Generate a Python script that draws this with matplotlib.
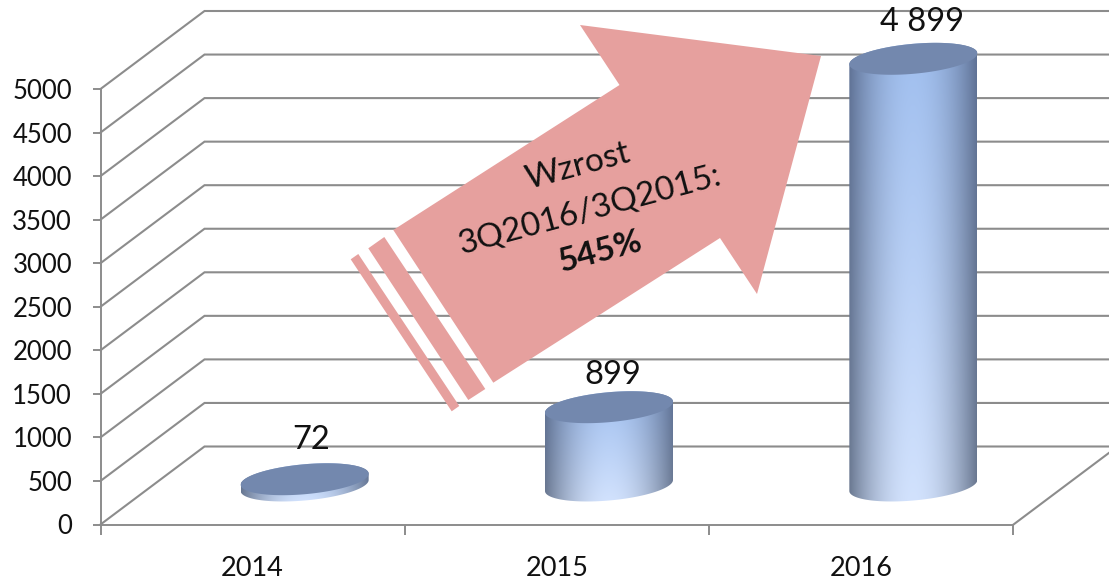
import numpy as np
import matplotlib
matplotlib.use("Agg")
import matplotlib.pyplot as plt
from matplotlib.patches import Polygon
from matplotlib.colors import to_rgb

categories = ["2014", "2015", "2016"]
values = [72, 899, 4899]
value_labels = ["72", "899", "4 899"]
y_ticks = [0, 500, 1000, 1500, 2000, 2500, 3000, 3500, 4000, 4500, 5000]
arrow_lines = ["Wzrost", "3Q2016/3Q2015:", "545%"]

W, H = 1109, 583
PX_X = 304.33      # pixels per category
PX_Y = 0.0871      # pixels per value unit
X0_PX, Y0_PX = 100.5, 524.5
DEPTH_X = 104 / PX_X
DEPTH_Y = 78 / PX_Y
GRID = "#8c8c8c"
ARROW = "#E6A09E"
TOP = "#7388AE"
LABEL_DX = [6, 3.5, 9]
LABEL_DY = [39, 32, 37]

plt.rcParams["font.family"] = ["Lato", "DejaVu Sans"]
fig = plt.figure(figsize=(W / 100, H / 100), dpi=100)
ax = fig.add_axes([0, 0, 1, 1])
xlim = (-X0_PX / PX_X, (W - X0_PX) / PX_X)
ylim = ((Y0_PX - H) / PX_Y, Y0_PX / PX_Y)
ax.set_xlim(xlim)
ax.set_ylim(ylim)
ax.patch.set_alpha(0)

for s in ("top", "right"):
    ax.spines[s].set_visible(False)
for s in ("left", "bottom"):
    ax.spines[s].set_position(("data", 0))
    ax.spines[s].set_color(GRID)
    ax.spines[s].set_linewidth(1.4)
ax.spines["left"].set_bounds(0, 5000)
ax.spines["bottom"].set_bounds(0, 3)

ax.set_yticks(y_ticks)
ax.set_yticklabels([str(v) for v in y_ticks], fontsize=18.5, color="#111111")
ax.tick_params(axis="y", length=6, width=1.4, color=GRID, pad=14.5, direction="out")
ax.set_xticks(range(len(categories) + 1))
ax.set_xticklabels([""] * (len(categories) + 1))
ax.tick_params(axis="x", which="major", length=7, width=1.4, color=GRID, direction="out")
ax.set_xticks(np.arange(len(categories)) + 0.5, minor=True)
ax.set_xticklabels(categories, minor=True, fontsize=19.5, color="#111111")
ax.tick_params(axis="x", which="minor", length=0, pad=23)

# 3D floor and back-wall grid
for v in y_ticks:
    ax.plot([0, DEPTH_X, xlim[1] + 1], [v, v + DEPTH_Y, v + DEPTH_Y],
            color=GRID, lw=1.5, zorder=1, solid_joinstyle="miter")
ax.plot([3, 3 + DEPTH_X], [0, DEPTH_Y], color=GRID, lw=1.5, zorder=1)


def disc(cx, cy, t):
    a = 64 / PX_X
    k = 5.5 / PX_Y
    b = 15 / PX_Y
    return cx + a * np.cos(t), cy + k * np.cos(t) + b * np.sin(t)


def body_image(h=200, w=200):
    u = np.linspace(0, 1, w)[None, :, None]
    v = np.linspace(0, 1, h)[:, None, None]   # 0 = top, 1 = bottom
    light = (1 - v) * np.array(to_rgb("#9FBEEE")) + v * np.array(to_rgb("#D2E2FD"))
    dark = (1 - v) * np.array(to_rgb("#5F7296")) + v * np.array(to_rgb("#6A7890"))
    m = np.abs(2 * u - 1) ** 2.0
    return np.clip((1 - m) * light + m * dark, 0, 1)


for i, (val, lab) in enumerate(zip(values, value_labels)):
    cx = i + 0.5 + DEPTH_X / 2
    base = DEPTH_Y / 2
    top = base + val
    t_up = np.linspace(0, np.pi, 120)
    t_lo = np.linspace(np.pi, 2 * np.pi, 120)
    xb, yb = disc(cx, base, t_lo)
    xt, yt = disc(cx, top, t_up)
    poly = Polygon(np.column_stack([np.r_[xb, xt], np.r_[yb, yt]]), closed=True,
                   fc="none", ec="none", transform=ax.transData)
    ax.add_patch(poly)
    a = 64 / PX_X
    ymin = base - 17 / PX_Y
    ymax = top + 17 / PX_Y
    im = ax.imshow(body_image(), extent=(cx - a, cx + a, ymin, ymax), aspect="auto",
                   origin="upper", zorder=3, interpolation="bilinear")
    im.set_clip_path(poly)
    tt = np.linspace(0, 2 * np.pi, 200)
    xd, yd = disc(cx, top, tt)
    ax.fill(xd, yd, color=TOP, lw=0, zorder=4)
    ax.text(cx + LABEL_DX[i] / PX_X, top + LABEL_DY[i] / PX_Y, lab, ha="center", va="center",
            fontsize=23.5, color="#111111", zorder=5)
ax.set_xlim(xlim)
ax.set_ylim(ylim)


# Overlay arrow, placed in figure pixels
def px(pts):
    return [(x / W, 1 - y / H) for x, y in pts]


shapes = [
    [(393.3, 230), (619.5, 85), (580, 25), (821, 56), (757, 294), (720, 238), (493.3, 382.7)],
    [(368.3, 248.3), (384.3, 237), (485.3, 389), (468.3, 400)],
    [(350.7, 259.3), (358.3, 254), (459.3, 406), (451.7, 411.3)],
]
for s in shapes:
    fig.add_artist(Polygon(px(s), closed=True, fc=ARROW, ec="none",
                           transform=fig.transFigure, zorder=6))

ROT = 15
centres = [(578, 166), (590, 210), (600, 252)]
for line, (x, y), w in zip(arrow_lines, centres, ["normal", "normal", "bold"]):
    fx, fy = px([(x, y)])[0]
    fig.text(fx, fy, line, ha="center", va="center", rotation=ROT, rotation_mode="anchor",
             fontsize=24, fontweight=w, color="#111111", zorder=7)

fig.savefig("out.png", dpi=100)
